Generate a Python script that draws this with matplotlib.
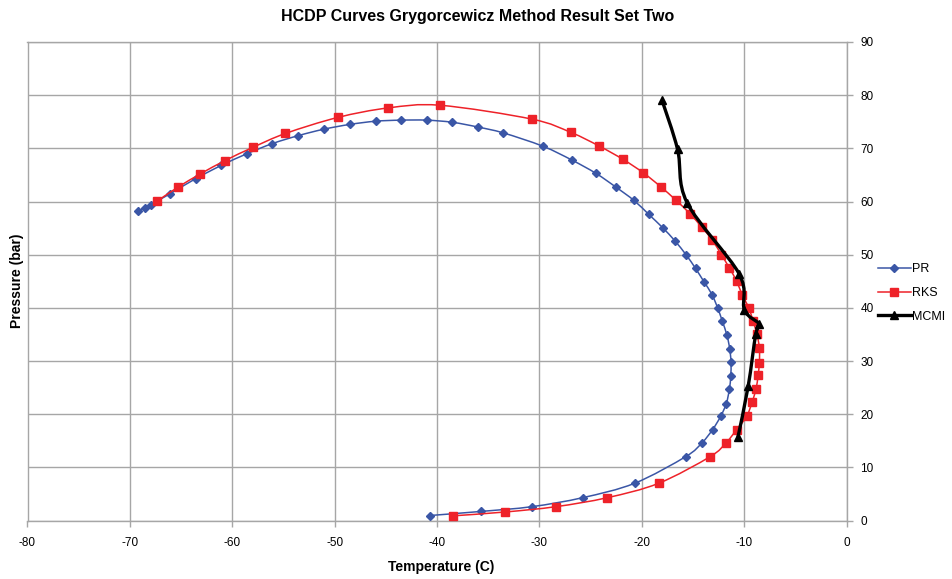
import matplotlib
matplotlib.use("Agg")
import matplotlib.pyplot as plt
import numpy as np
from matplotlib.path import Path
from matplotlib.patches import PathPatch

plt.rcParams['font.family'] = ['Liberation Sans', 'DejaVu Sans']
plt.rcParams['axes.unicode_minus'] = False

# ---- data ----
pr_T = [-69.21, -68.56, -67.97, -66.04, -63.57, -61.06, -58.55, -56.07, -53.53, -51.05,
        -48.51, -46.0, -43.52, -41.01, -38.5, -35.99, -33.52, -29.66, -26.83, -24.48,
        -22.52, -20.76, -19.33, -17.97, -16.76, -15.68, -14.74, -13.92, -13.14, -12.59,
        -12.13, -11.67, -11.41, -11.28, -11.31, -11.44, -11.74, -12.29, -13.08, -14.12,
        -15.72, -20.7, -25.76, -30.74, -35.73, -40.68]
pr_P = [58.2, 58.8, 59.4, 61.5, 64.3, 66.8, 69.0, 70.9, 72.4, 73.6,
        74.5, 75.1, 75.3, 75.3, 74.9, 74.0, 72.9, 70.4, 67.8, 65.3,
        62.7, 60.2, 57.6, 55.1, 52.6, 50.0, 47.4, 44.9, 42.5, 40.0,
        37.5, 34.8, 32.3, 29.8, 27.1, 24.7, 22.0, 19.6, 17.1, 14.6,
        12.0, 7.0, 4.3, 2.6, 1.7, 0.94]

rks_T = [-67.32, -65.3, -63.11, -60.7, -57.96, -54.8, -49.71, -44.76, -39.7, -30.74,
         -26.93, -24.13, -21.81, -19.85, -18.16, -16.69, -15.29, -14.15, -13.1, -12.22,
         -11.44, -10.73, -10.2, -9.55, -9.13, -8.74, -8.51, -8.51, -8.64, -8.83,
         -9.23, -9.75, -10.73, -11.77, -13.33, -18.35, -23.35, -28.39, -33.35, -38.41]
rks_P = [60.1, 62.7, 65.2, 67.7, 70.2, 72.8, 75.8, 77.6, 78.1, 75.5,
         73.0, 70.4, 67.9, 65.4, 62.8, 60.3, 57.7, 55.2, 52.7, 50.0,
         47.5, 45.0, 42.5, 40.0, 37.5, 35.0, 32.4, 29.7, 27.3, 24.8,
         22.2, 19.6, 17.1, 14.6, 12.0, 7.0, 4.3, 2.6, 1.6, 0.88]

mcmi_T = [-18.03, -16.5, -15.58, -10.49, -9.97, -8.51, -8.87, -9.6, -10.6]
mcmi_P = [79.1, 69.8, 59.8, 46.4, 39.6, 36.9, 35.0, 25.3, 15.7]

x_ticks = [-80, -70, -60, -50, -40, -30, -20, -10, 0]
y_ticks = [0, 10, 20, 30, 40, 50, 60, 70, 80, 90]

PR_C = '#3A56A6'
RKS_C = '#EE2229'
MC_C = '#000000'


def smooth_path(xs, ys):
    pts = np.column_stack([xs, ys])
    n = len(pts)
    verts = [pts[0]]
    codes = [Path.MOVETO]
    for i in range(n - 1):
        p0 = pts[i - 1] if i > 0 else pts[i]
        p1 = pts[i]
        p2 = pts[i + 1]
        p3 = pts[i + 2] if i + 2 < n else pts[i + 1]
        c1 = p1 + (p2 - p0) / 6.0
        c2 = p2 - (p3 - p1) / 6.0
        verts += [c1, c2, p2]
        codes += [Path.CURVE4] * 3
    return Path(verts, codes)


fig = plt.figure(figsize=(9.52, 5.79), dpi=100)
ax = fig.add_axes([27.5 / 952, 1 - 520.5 / 579, (846.5 - 27.5) / 952, (520.5 - 42) / 579])

grid_c = '#A6A6A6'
ax.set_xlim(-80, 0)
ax.set_ylim(0, 90)
ax.set_xticks(x_ticks)
ax.set_yticks(y_ticks)
ax.grid(True, color=grid_c, linewidth=1.0)
ax.set_axisbelow(True)
for s in ax.spines.values():
    s.set_color(grid_c)
    s.set_linewidth(1.0)
ax.yaxis.tick_right()
ax.yaxis.set_label_position('left')
ax.tick_params(axis='both', colors='#000000', labelsize=8.5, length=4, width=1.0, direction='out')
ax.tick_params(axis='x', color=grid_c, pad=8)
ax.tick_params(axis='y', color=grid_c, pad=6)

# lines (smoothed)
for xs, ys, c, lw, z in [(pr_T, pr_P, PR_C, 1.1, 3), (rks_T, rks_P, RKS_C, 1.1, 4), (mcmi_T, mcmi_P, MC_C, 2.4, 5)]:
    ax.add_patch(PathPatch(smooth_path(xs, ys), facecolor='none', edgecolor=c, lw=lw, zorder=z))

ax.plot(pr_T, pr_P, linestyle='none', marker='D', markersize=4.5, color=PR_C, zorder=3.5)
ax.plot(rks_T, rks_P, linestyle='none', marker='s', markersize=5.5, color=RKS_C, zorder=4.5)
ax.plot(mcmi_T, mcmi_P, linestyle='none', marker='^', markersize=5.5, color=MC_C, zorder=5.5)

# legend proxies
h1, = ax.plot([], [], color=PR_C, lw=1.1, marker='D', markersize=4.5, label='PR')
h2, = ax.plot([], [], color=RKS_C, lw=1.1, marker='s', markersize=5.5, label='RKS')
h3, = ax.plot([], [], color=MC_C, lw=2.4, marker='^', markersize=5.5, label='MCMI')
fig.legend(handles=[h1, h2, h3], loc='center left', bbox_to_anchor=(878 / 952, 1 - 293 / 579),
           frameon=False, fontsize=9, handlelength=2.6, handletextpad=0.1,
           labelspacing=0.95, borderaxespad=0, borderpad=0)

fig.text(478 / 952, 1 - 17 / 579, 'HCDP Curves Grygorcewicz Method Result Set Two',
         ha='center', va='center', fontsize=11.5, fontweight='bold')
fig.text(441 / 952, 1 - 567 / 579, 'Temperature (C)', ha='center', va='center',
         fontsize=10, fontweight='bold')
fig.text(17 / 952, 1 - 281 / 579, 'Pressure (bar)', ha='center', va='center',
         fontsize=10, fontweight='bold', rotation=90)

fig.savefig('out.png', dpi=100)
